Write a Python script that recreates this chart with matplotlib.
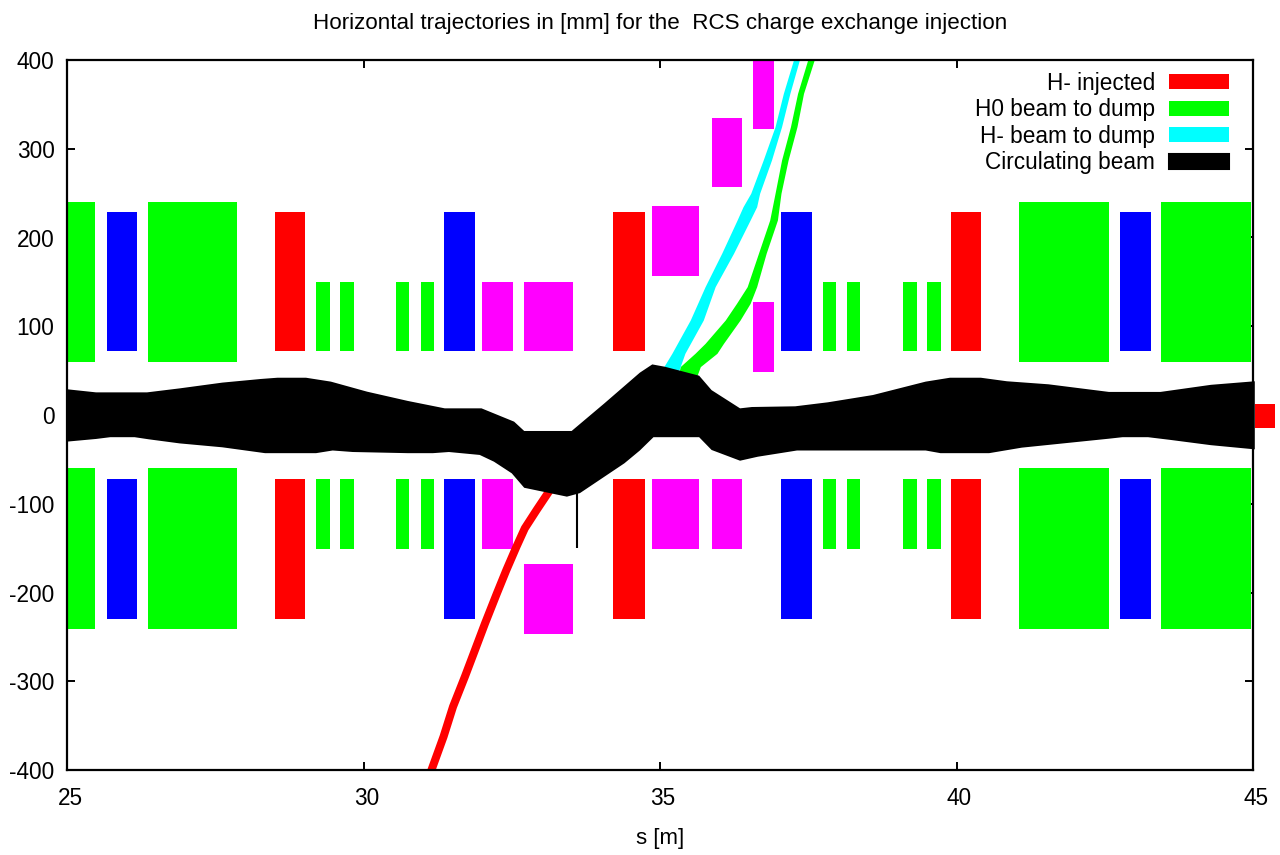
import numpy as np
import matplotlib
matplotlib.use('Agg')
import matplotlib.pyplot as plt
from matplotlib.patches import Patch
from matplotlib.transforms import ScaledTranslation

plt.rcParams['font.family'] = ['Liberation Sans', 'DejaVu Sans']
plt.rcParams['axes.unicode_minus'] = False

# Aimants symétriques : (s debut, s fin) en m
dip_green = [(25.0, 25.47), (26.37, 27.87), (41.05, 42.57), (43.45, 44.97)]
quad_blue = [(25.67, 26.18), (31.36, 31.88), (37.04, 37.57), (42.76, 43.28)]
quad_red = [(28.5, 29.01), (34.2, 34.75), (39.9, 40.41)]
small_green = [(29.2, 29.43), (29.6, 29.84), (30.55, 30.77), (30.97, 31.19),
               (37.75, 37.97), (38.15, 38.37), (39.1, 39.33), (39.5, 39.74)]

# Aimants magenta : (s debut, s fin, y bas, y haut)
magenta = [(32.0, 32.52, 72, 150), (32.0, 32.52, -151, -72),
           (32.7, 33.53, 72, 150), (32.7, 33.53, -247, -168),
           (34.86, 35.66, 157, 235), (34.86, 35.66, -151, -72),
           (35.87, 36.38, 257, 335), (35.87, 36.38, -151, -72),
           (36.56, 36.93, 322, 400), (36.56, 36.93, 49, 127)]

# Enveloppe du faisceau circulant
up_s = [25.0, 25.49, 26.35, 26.9, 27.62, 28.27, 28.55, 29.03, 29.45, 30.06, 30.75, 31.37,
        31.99, 32.54, 32.71, 33.51, 34.06, 34.66, 34.87, 35.08, 35.66, 35.87, 36.35, 36.55,
        37.28, 37.83, 38.59, 39.48, 39.89, 40.41, 40.85, 41.55, 42.57, 43.44, 44.29, 45.03]
up_y = [29, 25.5, 25.5, 30, 36.5, 40.6, 42, 42, 37.6, 26.3, 15.8, 7.5,
        7.5, -7.5, -18, -18, 13, 47.7, 57, 54.4, 44.3, 28, 7.5, 9,
        9.8, 14.3, 22.5, 37.6, 42, 42, 38, 34.6, 26, 26, 34, 38]
low_s = [25.0, 25.49, 25.73, 26.14, 26.38, 26.9, 27.62, 28.34, 29.2, 29.48, 29.82, 30.75,
         31.17, 31.44, 31.96, 32.2, 32.5, 32.71, 33.43, 33.65, 34.4, 34.66, 34.89, 35.66,
         35.87, 36.35, 36.65, 37.31, 39.48, 39.73, 40.55, 41.1, 42.57, 42.8, 43.23, 43.6,
         44.29, 45.03]
low_y = [-30, -27, -25, -25, -27.4, -32, -36.4, -43, -43, -40, -41.7, -43,
         -43, -41.7, -45, -52.6, -65.7, -82, -92, -88, -54.4, -40, -25, -25,
         -39.4, -51.5, -47, -40, -40, -43, -43, -36.8, -26.7, -25, -25, -28,
         -34, -38.7]

# Trajectoires
inj_s = [31.13, 31.35, 31.51, 31.71, 31.88, 32.05, 32.25, 32.41, 32.58, 32.72, 32.92, 33.14]
inj_y = [-403, -362.4, -328.6, -294.8, -264.8, -234.7, -200.9, -174.6, -148.3, -127.7, -107, -85]

h0_y = [40, 54.5, 69.5, 80.7, 107, 125.8, 144.6, 182.2, 219.7, 249.8, 287.3, 324.9, 362.4, 400]
h0_s_a = [35.3, 35.34, 35.59, 35.76, 36.1, 36.29, 36.47, 36.66, 36.85, 36.94, 37.05, 37.2, 37.32, 37.49]
h0_s_b = [35.6, 35.68, 35.96, 36.07, 36.35, 36.52, 36.63, 36.79, 36.98, 37.04, 37.16, 37.31, 37.42, 37.6]

hm_y = [40, 50.7, 69.5, 107, 144.6, 182.2, 219.7, 234.7, 249.8, 287.3, 324.9, 362.4, 400]
hm_s_a = [35.0, 35.03, 35.2, 35.51, 35.76, 36.04, 36.3, 36.4, 36.53, 36.74, 36.94, 37.08, 37.25]
hm_s_b = [35.28, 35.32, 35.42, 35.73, 35.93, 36.24, 36.52, 36.63, 36.68, 36.88, 37.05, 37.19, 37.35]

ticks_x = [25, 30, 35, 40, 45]
ticks_y = [-400, -300, -200, -100, 0, 100, 200, 300, 400]

RED, GREEN, BLUE, MAG, CYAN = '#ff0000', '#00ff00', '#0000ff', '#ff00ff', '#00ffff'

fig = plt.figure(figsize=(12.8, 8.55), dpi=100)
ax = fig.add_axes([67/1280, 1-770/855, (1253-67)/1280, (770-60)/855])


def magnet(s0, s1, y0, y1, col):
    ax.fill_between([s0, s1], y0, y1, color=col, lw=0, zorder=2)


for s0, s1 in dip_green:
    magnet(s0, s1, 60, 240, GREEN)
    magnet(s0, s1, -241, -60, GREEN)
for s0, s1 in quad_blue:
    magnet(s0, s1, 72, 229, BLUE)
    magnet(s0, s1, -230, -72, BLUE)
for s0, s1 in quad_red:
    magnet(s0, s1, 72, 229, RED)
    magnet(s0, s1, -230, -72, RED)
for s0, s1 in small_green:
    magnet(s0, s1, 72, 150, GREEN)
    magnet(s0, s1, -151, -72, GREEN)
for s0, s1, y0, y1 in magenta:
    magnet(s0, s1, y0, y1, MAG)

# Bout de quadrupole rouge hors du cadre, à droite
ax.fill_between([45.03, 45.37], -14.5, 12.5, color=RED, lw=0, clip_on=False, zorder=2)

ax.plot(inj_s, inj_y, color=RED, lw=5.8, solid_capstyle='butt', zorder=3)
ax.fill_betweenx(h0_y, h0_s_a, h0_s_b, color=GREEN, lw=0, zorder=3)
ax.fill_betweenx(hm_y, hm_s_a, hm_s_b, color=CYAN, lw=0, zorder=3)

ax.plot([33.6, 33.6], [-150, -85], color='k', lw=1.5, zorder=3, solid_capstyle='butt')
ax.fill(up_s + low_s[::-1], up_y + low_y[::-1], color='k', lw=0, clip_on=False, zorder=4)

ax.set_xlim(25, 45)
ax.set_ylim(-400, 400)
ax.set_xticks(ticks_x)
ax.set_yticks(ticks_y)
ax.tick_params(direction='in', top=True, right=True, length=5.7, width=1.4, labelsize=16.3)
ax.tick_params(axis='x', pad=12)
ax.tick_params(axis='y', pad=9)
for sp in ax.spines.values():
    sp.set_linewidth(1.6)
    sp.set_zorder(3.5)

# Les labels de x sont décalés de 3 px vers la droite
shift = ScaledTranslation(3/100, 0, fig.dpi_scale_trans)
for lab in ax.get_xticklabels():
    lab.set_transform(lab.get_transform() + shift)

ax.set_xlabel('s [m]', fontsize=16, labelpad=13)
ax.set_title('Horizontal trajectories in [mm] for the  RCS charge exchange injection',
             fontsize=16.1, pad=22)

handles = [Patch(color=RED, lw=0), Patch(color=GREEN, lw=0), Patch(color=CYAN, lw=0),
           Patch(facecolor='k', edgecolor='k', lw=1.5, joinstyle='round')]
labels = ['H- injected', 'H0 beam to dump', 'H- beam to dump', 'Circulating beam']
ax.legend(handles, labels, loc='upper right', bbox_to_anchor=(0.9798, 0.9838), frameon=False,
          markerfirst=False, fontsize=16.3, handlelength=2.65, handleheight=0.66,
          handletextpad=0.62, labelspacing=0.16, borderpad=0, borderaxespad=0)

fig.savefig('out.png', dpi=100)
